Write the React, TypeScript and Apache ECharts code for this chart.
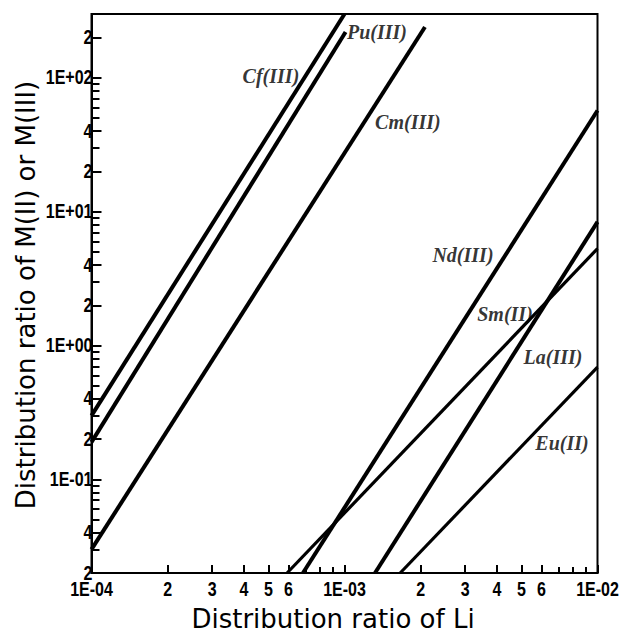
import React, { useEffect, useRef } from "react";
import * as echarts from "echarts";

// ---- Axis ticks (log scales) ----
const xTickValues = [
  1e-4, 2e-4, 3e-4, 4e-4, 5e-4, 6e-4, 7e-4, 8e-4, 9e-4,
  1e-3, 2e-3, 3e-3, 4e-3, 5e-3, 6e-3, 7e-3, 8e-3, 9e-3, 1e-2,
];
const xTickLabels = [
  "1E-04", "2", "3", "4", "5", "6", "", "", "",
  "1E-03", "2", "3", "4", "5", "6", "", "", "", "1E-02",
];
const yTickValues = [
  0.02, 0.03, 0.04, 0.05, 0.06, 0.07, 0.08, 0.09,
  0.1, 0.2, 0.3, 0.4, 0.5, 0.6, 0.7, 0.8, 0.9,
  1, 2, 3, 4, 5, 6, 7, 8, 9,
  10, 20, 30, 40, 50, 60, 70, 80, 90,
  100, 200,
];
const yTickLabels = [
  "2", "", "4", "", "", "", "", "",
  "1E-01", "2", "", "4", "", "", "", "", "",
  "1E+00", "2", "", "4", "", "", "", "", "",
  "1E+01", "2", "", "4", "", "", "", "", "",
  "1E+02", "2",
];

const xMin = 1e-4;
const xMax = 1e-2;
const yMin = 0.02;
const yMax = 300;

// ---- Series (straight lines on log-log scale: end points) ----
const cfData = [[1.0e-4, 0.30], [1.0e-3, 300]];
const puData = [[1.0e-4, 0.19], [1.01e-3, 220]];
const cmData = [[1.0e-4, 0.030], [2.08e-3, 240]];
const ndData = [[6.85e-4, 0.02], [1.0e-2, 57]];
const smData = [[5.93e-4, 0.02], [1.0e-2, 5.3]];
const laData = [[1.32e-3, 0.02], [1.0e-2, 8.4]];
const euData = [[1.66e-3, 0.02], [1.0e-2, 0.69]];

// ---- Curve labels (data coordinates) ----
const curveLabelNames = ["Cf(III)", "Pu(III)", "Cm(III)", "Nd(III)", "Sm(II)", "La(III)", "Eu(II)"];
const curveLabelX = [5.12e-4, 1.344e-3, 1.78e-3, 2.94e-3, 4.31e-3, 6.67e-3, 7.24e-3];
const curveLabelY = [103, 220, 46.8, 4.75, 1.72, 0.82, 0.187];

const xTitle = "Distribution ratio of Li";
const yTitle = "Distribution ratio of M(II) or M(III)";

const tickFont = "bold 20px 'Liberation Sans', 'Arial', sans-serif";
const tickScaleX = 0.8;
const titleFont = "26px 'DejaVu Sans', sans-serif";

const L = (v: number) => Math.log10(v);

export default function App() {
  const ref = useRef<HTMLDivElement>(null);

  useEffect(() => {
    if (!ref.current) return;
    const chart = echarts.init(ref.current, null, { renderer: "svg" });

    const toLog = (d: number[][]) => d.map(([x, y]) => [L(x), L(y)]);

    const lineSeries = (name: string, data: number[][], width: number) => ({
      name,
      type: "line",
      data: toLog(data),
      symbol: "none",
      clip: true,
      lineStyle: { color: "#000", width },
    });

    const xMajorLog = xTickValues.filter((v, i) => xTickLabels[i] !== "").map(L);
    const xMinorLog = xTickValues.filter((v, i) => xTickLabels[i] === "").map(L);
    const yMajorLog = yTickValues.filter((v, i) => yTickLabels[i] !== "").map(L);
    const yMinorLog = yTickValues.filter((v, i) => yTickLabels[i] === "").map(L);

    const xLabelData = xTickValues.map((v, i) => [L(v), L(yMin), i]);
    const yLabelData = yTickValues.map((v, i) => [L(xMin), L(v), i]);

    const tickLine = { color: "#000", width: 2 };

    const axisBase = (min: number, max: number) => ({
      type: "value",
      min,
      max,
      axisLabel: { show: false },
      splitLine: { show: false },
    });

    const option: any = {
      animation: false,
      grid: {
        left: 91.5,
        right: 24.5,
        top: 14,
        bottom: 60,
        show: true,
        borderColor: "#000",
        borderWidth: 2,
      },
      xAxis: [
        {
          ...axisBase(L(xMin), L(xMax)),
          position: "bottom",
          axisLine: { show: true, onZero: false, lineStyle: { color: "#000", width: 2 } },
          axisTick: { show: true, inside: true, length: 8, customValues: xMajorLog, lineStyle: tickLine },
        },
        {
          ...axisBase(L(xMin), L(xMax)),
          position: "bottom",
          axisLine: { show: false, onZero: false },
          axisTick: { show: true, inside: true, length: 6, customValues: xMinorLog, lineStyle: tickLine },
        },
      ],
      yAxis: [
        {
          ...axisBase(L(yMin), L(yMax)),
          position: "left",
          axisLine: { show: true, onZero: false, lineStyle: { color: "#000", width: 2 } },
          axisTick: { show: true, inside: true, length: 10, customValues: yMajorLog, lineStyle: tickLine },
        },
        {
          ...axisBase(L(yMin), L(yMax)),
          position: "left",
          axisLine: { show: false, onZero: false },
          axisTick: { show: true, inside: true, length: 8, customValues: yMinorLog, lineStyle: tickLine },
        },
      ],
      graphic: [
        {
          type: "text",
          x: 333,
          y: 619,
          style: {
            text: xTitle,
            font: titleFont,
            fill: "#000",
            align: "center",
            verticalAlign: "middle",
          },
        },
        {
          type: "text",
          x: 26,
          y: 295,
          rotation: Math.PI / 2,
          style: {
            text: yTitle,
            font: titleFont,
            fill: "#000",
            align: "center",
            verticalAlign: "middle",
          },
        },
      ],
      series: [
        lineSeries("Cf(III)", cfData, 4),
        lineSeries("Pu(III)", puData, 4),
        lineSeries("Cm(III)", cmData, 4),
        lineSeries("Nd(III)", ndData, 4),
        lineSeries("Sm(II)", smData, 3.2),
        lineSeries("La(III)", laData, 4),
        lineSeries("Eu(II)", euData, 3.2),
        {
          name: "labels",
          type: "scatter",
          symbolSize: 0,
          data: curveLabelNames.map((n, i) => ({ name: n, value: [L(curveLabelX[i]), L(curveLabelY[i])] })),
          label: {
            show: true,
            position: "inside",
            formatter: "{b}",
            color: "#000",
            fontFamily: "'Liberation Serif', 'DejaVu Serif', serif",
            fontStyle: "italic",
            fontWeight: "bold",
            fontSize: 20,
          },
        },
        {
          name: "xTickLabels",
          type: "custom",
          clip: false,
          data: xLabelData,
          renderItem: (params: any, api: any) => {
            const i = api.value(2);
            const label = xTickLabels[i];
            if (!label) return null;
            const p = api.coord([api.value(0), api.value(1)]);
            return {
              type: "text",
              x: p[0],
              y: p[1] + 16,
              scaleX: tickScaleX,
              style: {
                text: label,
                font: tickFont,
                fill: "#000",
                align: "center",
                verticalAlign: "middle",
              },
            };
          },
        },
        {
          name: "yTickLabels",
          type: "custom",
          clip: false,
          data: yLabelData,
          renderItem: (params: any, api: any) => {
            const i = api.value(2);
            const label = yTickLabels[i];
            if (!label) return null;
            const p = api.coord([api.value(0), api.value(1)]);
            return {
              type: "text",
              x: p[0] + 1,
              y: p[1],
              scaleX: tickScaleX,
              style: {
                text: label,
                font: tickFont,
                fill: "#000",
                align: "right",
                verticalAlign: "middle",
              },
            };
          },
        },
      ],
    };

    chart.setOption(option);
    return () => chart.dispose();
  }, []);

  return (
    <div
      ref={ref}
      style={{ position: "absolute", left: 0, top: 0, width: 622, height: 633, background: "#fff" }}
    />
  );
}
